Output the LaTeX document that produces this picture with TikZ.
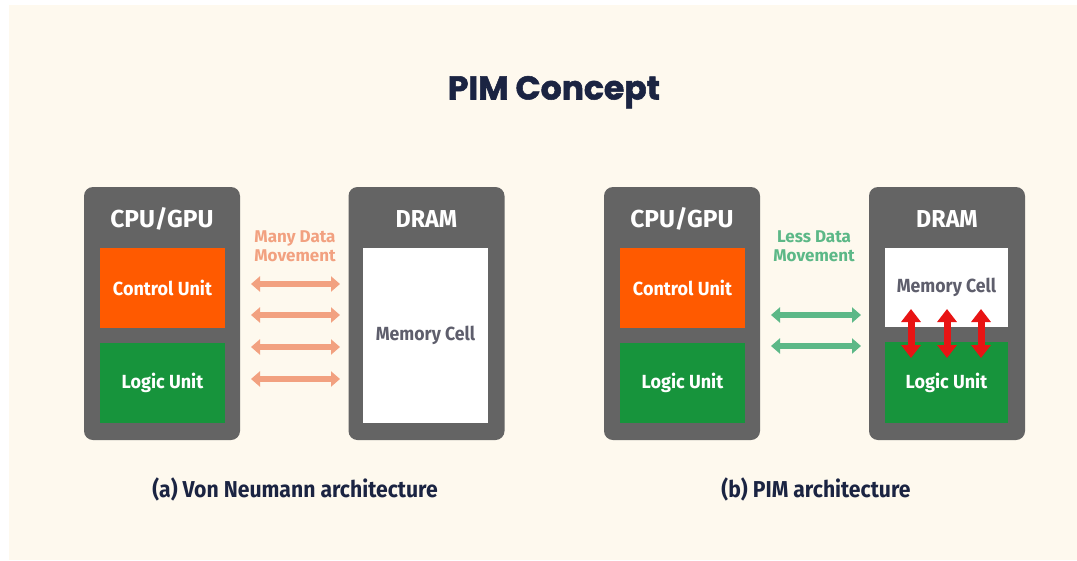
\documentclass[tikz,border=0pt]{standalone}
\usepackage{fontspec}
\usepackage{graphicx}
\setmainfont{Fira Sans}
\newfontfamily\titlefont{Poppins}[BoldFeatures={FakeBold=1.6}]
\usetikzlibrary{arrows.meta}
\definecolor{bgc}{HTML}{FEF9EE}
\definecolor{grayC}{HTML}{646464}
\definecolor{orangeC}{HTML}{FF5A00}
\definecolor{greenC}{HTML}{17943C}
\definecolor{salmonC}{HTML}{F2A180}
\definecolor{mintC}{HTML}{5CB887}
\definecolor{redC}{HTML}{E81414}
\definecolor{navyC}{HTML}{1B2442}
\definecolor{memtxt}{HTML}{5E5E6C}
\newcommand\narrowtext[2]{\scalebox{#1}[1]{#2}}
\tikzset{
  chip/.style={fill=grayC, rounded corners=9pt, minimum width=156pt, minimum height=253pt, inner sep=0pt},
  unit/.style={inner sep=0pt, text=white, font=\bfseries\fontsize{19}{22}\selectfont},
  memcell/.style={fill=white, inner sep=0pt, text=memtxt, font=\bfseries\fontsize{19}{22}\selectfont},
  chiplabel/.style={text=white, font=\bfseries\fontsize{24.5}{28}\selectfont},
  movelabel/.style={align=center, font=\bfseries\fontsize{17}{19}\selectfont},
  caption/.style={text=navyC, anchor=base, font=\bfseries\fontsize{23}{26}\selectfont},
  sarrow/.style={draw=salmonC, line width=6pt, {Triangle[width=15pt,length=9pt]}-{Triangle[width=15pt,length=9pt]}},
  garrow/.style={draw=mintC, line width=6pt, {Triangle[width=15pt,length=9pt]}-{Triangle[width=15pt,length=9pt]}},
  rarrow/.style={draw=redC, line width=7pt, {Triangle[width=19pt,length=13pt]}-{Triangle[width=19pt,length=13pt]}},
}
\begin{document}
\begin{tikzpicture}[x=1pt,y=-1pt]
\useasboundingbox (0,0) rectangle (1077,560);
\fill[white] (0,0) rectangle (1077,560);
\fill[bgc] (9,5) rectangle (1077,560);

\node[text=navyC, anchor=base, font=\titlefont\bfseries\fontsize{33}{36}\selectfont] (title) at (554,99.5) {PIM Concept};

% (a) Von Neumann
\node[chip] (cpuA) at (162,313.5) {};
\node[chiplabel] (cpuAl) at (162,219) {CPU/GPU};
\node[unit, fill=orangeC, minimum width=125pt, minimum height=80pt] (ctlA) at (162.5,288) {\narrowtext{0.95}{Control Unit}};
\node[unit, fill=greenC, minimum width=125pt, minimum height=80pt] (logA) at (162.5,383) {\narrowtext{0.95}{Logic Unit}};
\node[chip] (dramA) at (426.5,313.5) {};
\node[chiplabel] (dramAl) at (426.5,219) {\narrowtext{0.95}{DRAM}};
\node[memcell, minimum width=125pt, minimum height=175pt] (memA) at (425.5,335.5) {\narrowtext{0.93}{Memory Cell}};
\node[movelabel, text=salmonC] (movA) at (295,246) {Many Data\\Movement};
\foreach \y [count=\i] in {284,315,347,379}{
  \coordinate (aL\i) at (251,\y);
  \coordinate (aR\i) at (340,\y);
  \draw[sarrow] (aL\i) -- (aR\i);
}
\node[caption] (capA) at (295,497) {\narrowtext{0.92}{(a) Von Neumann architecture}};

% (b) PIM
\node[chip] (cpuB) at (682,313.5) {};
\node[chiplabel] (cpuBl) at (682,219) {CPU/GPU};
\node[unit, fill=orangeC, minimum width=125pt, minimum height=80pt] (ctlB) at (682.5,288) {\narrowtext{0.95}{Control Unit}};
\node[unit, fill=greenC, minimum width=125pt, minimum height=80pt] (logB) at (682.5,383) {\narrowtext{0.95}{Logic Unit}};
\node[chip] (dramB) at (947,313.5) {};
\node[chiplabel] (dramBl) at (947,219) {\narrowtext{0.95}{DRAM}};
\node[memcell, minimum width=123pt, minimum height=79pt] (memB) at (946.5,287.5) {\narrowtext{0.93}{Memory Cell}};
\node[unit, fill=greenC, minimum width=123pt, minimum height=81pt] (logB2) at (946.5,382.5) {\narrowtext{0.95}{Logic Unit}};
\node[movelabel, text=mintC] (movB) at (814,246) {Less Data\\Movement};
\foreach \y [count=\i] in {315,346}{
  \coordinate (bL\i) at (771,\y);
  \coordinate (bR\i) at (861,\y);
  \draw[garrow] (bL\i) -- (bR\i);
}
\foreach \x [count=\i] in {911,947,981}{
  \coordinate (rT\i) at (\x,309);
  \coordinate (rB\i) at (\x,358);
  \draw[rarrow] (rT\i) -- (rB\i);
}
\node[caption] (capB) at (816,497) {\narrowtext{0.92}{(b) PIM architecture}};
\end{tikzpicture}
\end{document}
